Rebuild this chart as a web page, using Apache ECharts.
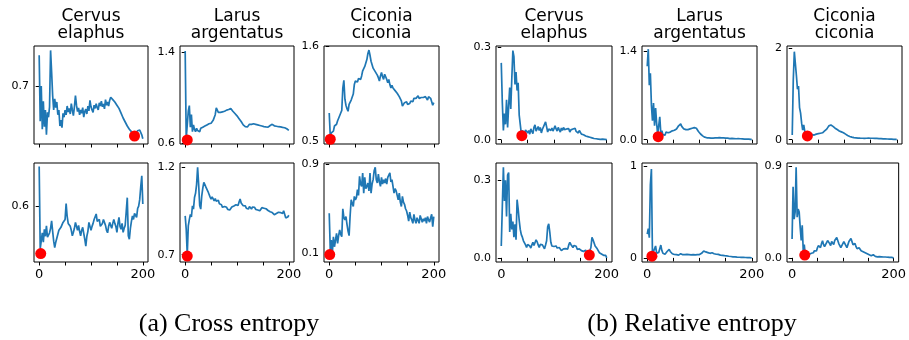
<!DOCTYPE html>
<html>
<head>
<meta charset="utf-8">
<title>Cross entropy / Relative entropy</title>
<script src="https://cdn.jsdelivr.net/npm/echarts/dist/echarts.min.js"></script>
<style>
html, body { margin: 0; padding: 0; background: #fff; }
#myChart { width: 909px; height: 340px; }
</style>
</head>
<body>
<div id="myChart"></div>
<script>
// x: generation
var generations = [
  0, 2, 4, 6, 8, 10, 12, 14, 16, 18,
  20, 22, 24, 26, 28, 30, 32, 34, 36, 38,
  40, 42, 44, 46, 48, 50, 52, 54, 56, 58,
  60, 62, 64, 66, 68, 70, 72, 74, 76, 78,
  80, 82, 84, 86, 88, 90, 92, 94, 96, 98,
  100, 102, 104, 106, 108, 110, 112, 114, 116, 118,
  120, 122, 124, 126, 128, 130, 132, 134, 136, 138,
  140, 142, 144, 146, 148, 150, 152, 154, 156, 158,
  160, 162, 164, 166, 168, 170, 172, 174, 176, 178,
  180, 182, 184, 186, 188, 190, 192, 194, 196, 198,
  200
];
var xTicks = [0, 50, 100, 150, 200];
var xLabels = [0, 200];

var species = ['Cervus\nelaphus', 'Larus\nargentatus', 'Ciconia\nciconia'];
var captions = ['(a) Cross entropy', '(b) Relative entropy'];

// ---- (a) cross entropy, upper row
var ceTopCervus = [
  0.777, 0.612, 0.700, 0.592, 0.662, 0.598, 0.640, 0.578, 0.634, 0.622,
  0.648, 0.789, 0.735, 0.676, 0.640, 0.668, 0.646, 0.660, 0.628, 0.640,
  0.600, 0.615, 0.596, 0.632, 0.622, 0.640, 0.628, 0.650, 0.635, 0.644,
  0.630, 0.656, 0.640, 0.626, 0.648, 0.676, 0.652, 0.636, 0.645, 0.628,
  0.640, 0.632, 0.646, 0.622, 0.636, 0.642, 0.630, 0.650, 0.638, 0.664,
  0.648, 0.640, 0.634, 0.652, 0.644, 0.656, 0.646, 0.640, 0.658, 0.650,
  0.662, 0.648, 0.655, 0.643, 0.666, 0.652, 0.660, 0.650, 0.664, 0.672,
  0.676, 0.666, 0.670, 0.660, 0.664, 0.652, 0.656, 0.644, 0.640, 0.632,
  0.628, 0.620, 0.616, 0.610, 0.606, 0.600, 0.598, 0.592, 0.594, 0.586,
  0.588, 0.580, 0.576, 0.582, 0.586, 0.588, 0.584, 0.590, 0.586, 0.578,
  0.568
];
var ceTopLarus = [
  1.41, 0.64, 0.63, 0.88, 0.93, 0.74, 0.85, 0.70, 0.76, 0.72,
  0.70, 0.73, 0.71, 0.72, 0.70, 0.73, 0.72, 0.74, 0.73, 0.75,
  0.74, 0.76, 0.745, 0.77, 0.76, 0.775, 0.79, 0.80, 0.81, 0.85,
  0.91, 0.92, 0.87, 0.86, 0.87, 0.855, 0.875, 0.86, 0.88, 0.87,
  0.89, 0.88, 0.895, 0.90, 0.905, 0.89, 0.88, 0.875, 0.86, 0.855,
  0.84, 0.83, 0.815, 0.80, 0.79, 0.775, 0.76, 0.75, 0.745, 0.74,
  0.742, 0.75, 0.765, 0.77, 0.765, 0.775, 0.77, 0.772, 0.765, 0.768,
  0.76, 0.765, 0.755, 0.76, 0.75, 0.752, 0.745, 0.748, 0.742, 0.746,
  0.74, 0.75, 0.755, 0.76, 0.765, 0.758, 0.752, 0.745, 0.748, 0.742,
  0.744, 0.738, 0.742, 0.735, 0.738, 0.732, 0.735, 0.73, 0.726, 0.72,
  0.712
];
var ceTopCiconia = [
  0.83, 0.56, 0.60, 0.58, 0.62, 0.68, 0.66, 0.70, 0.74, 0.77,
  0.79, 0.83, 0.86, 1.12, 1.21, 0.99, 0.92, 0.88, 0.85, 0.93,
  0.95, 0.98, 1.00, 1.05, 1.16, 1.20, 1.22, 1.19, 1.23, 1.24,
  1.22, 1.26, 1.32, 1.34, 1.37, 1.41, 1.45, 1.52, 1.56, 1.50,
  1.43, 1.39, 1.35, 1.33, 1.31, 1.30, 1.27, 1.24, 1.20, 1.26,
  1.30, 1.25, 1.22, 1.28, 1.25, 1.22, 1.18, 1.22, 1.16, 1.12,
  1.15, 1.12, 1.10, 1.09, 1.08, 1.06, 1.04, 1.02, 1.00, 0.97,
  0.91, 0.93, 0.95, 0.97, 0.96, 0.93, 0.95, 0.94, 0.97, 0.99,
  0.96, 1.00, 1.02, 1.00, 1.01, 1.03, 1.00, 1.02, 1.01, 1.03,
  1.01, 1.00, 1.02, 1.00, 0.98, 1.02, 1.02, 1.00, 0.98, 0.92,
  0.95
];

// ---- (a) cross entropy, lower row
var ceBotCervus = [
  0.681, 0.515, 0.512, 0.547, 0.528, 0.554, 0.540, 0.561, 0.538, 0.534,
  0.547, 0.556, 0.571, 0.550, 0.530, 0.517, 0.528, 0.536, 0.540, 0.552,
  0.556, 0.558, 0.562, 0.568, 0.566, 0.574, 0.606, 0.580, 0.566, 0.562,
  0.560, 0.552, 0.541, 0.548, 0.556, 0.568, 0.560, 0.552, 0.562, 0.550,
  0.541, 0.552, 0.558, 0.546, 0.534, 0.520, 0.540, 0.550, 0.568, 0.560,
  0.552, 0.560, 0.566, 0.574, 0.570, 0.585, 0.570, 0.566, 0.574, 0.560,
  0.556, 0.566, 0.574, 0.570, 0.562, 0.552, 0.547, 0.560, 0.568, 0.562,
  0.556, 0.566, 0.574, 0.566, 0.560, 0.548, 0.566, 0.578, 0.560, 0.554,
  0.566, 0.548, 0.556, 0.562, 0.590, 0.618, 0.541, 0.534, 0.556, 0.570,
  0.581, 0.574, 0.586, 0.588, 0.578, 0.596, 0.601, 0.614, 0.640, 0.662,
  0.605
];
var ceBotLarus = [
  0.921, 0.845, 0.700, 0.864, 0.900, 0.930, 0.915, 0.979, 0.960, 1.026,
  1.050, 1.100, 1.198, 1.100, 0.980, 0.960, 1.036, 1.080, 1.112, 1.100,
  1.085, 1.074, 1.060, 1.045, 1.030, 1.017, 1.030, 1.020, 1.007, 1.020,
  1.005, 0.998, 1.010, 0.990, 0.979, 0.985, 0.970, 0.960, 0.975, 0.965,
  0.970, 0.958, 0.968, 0.955, 0.960, 0.972, 0.965, 0.978, 0.970, 0.985,
  0.988, 0.980, 1.000, 1.017, 0.995, 0.985, 0.979, 0.972, 0.978, 0.965,
  0.970, 0.960, 0.975, 0.969, 0.960, 0.972, 0.962, 0.970, 0.958, 0.968,
  0.955, 0.962, 0.950, 0.960, 0.968, 0.958, 0.965, 0.955, 0.962, 0.960,
  0.952, 0.958, 0.945, 0.950, 0.940, 0.935, 0.928, 0.921, 0.935, 0.930,
  0.942, 0.950, 0.940, 0.945, 0.935, 0.950, 0.930, 0.910, 0.902, 0.915,
  0.925
];
var ceBotCiconia = [
  0.46, 0.13, 0.22, 0.11, 0.25, 0.16, 0.22, 0.28, 0.19, 0.26,
  0.31, 0.27, 0.25, 0.50, 0.42, 0.40, 0.43, 0.36, 0.30, 0.26,
  0.44, 0.58, 0.55, 0.52, 0.61, 0.58, 0.60, 0.67, 0.62, 0.79,
  0.72, 0.70, 0.82, 0.64, 0.78, 0.68, 0.70, 0.73, 0.66, 0.82,
  0.64, 0.72, 0.76, 0.84, 0.87, 0.76, 0.73, 0.81, 0.74, 0.70,
  0.78, 0.72, 0.76, 0.73, 0.77, 0.72, 0.78, 0.80, 0.82, 0.74,
  0.76, 0.70, 0.64, 0.68, 0.66, 0.62, 0.58, 0.64, 0.56, 0.52,
  0.61, 0.56, 0.54, 0.50, 0.48, 0.44, 0.39, 0.47, 0.42, 0.40,
  0.37, 0.45, 0.40, 0.37, 0.42, 0.41, 0.37, 0.44, 0.45, 0.38,
  0.41, 0.39, 0.42, 0.37, 0.43, 0.40, 0.38, 0.42, 0.45, 0.34,
  0.43
];

// ---- (b) relative entropy, upper row
var reTopCervus = [
  0.25, 0.12, 0.03, 0.085, 0.05, 0.13, 0.04, 0.11, 0.17, 0.10,
  0.20, 0.29, 0.27, 0.18, 0.22, 0.16, 0.185, 0.08, 0.085, 0.02,
  0.03, 0.025, 0.018, 0.032, 0.038, 0.022, 0.030, 0.018, 0.035, 0.027,
  0.020, 0.040, 0.048, 0.028, 0.032, 0.043, 0.030, 0.040, 0.022, 0.034,
  0.030, 0.050, 0.058, 0.055, 0.025, 0.035, 0.040, 0.030, 0.038, 0.028,
  0.036, 0.045, 0.035, 0.028, 0.040, 0.032, 0.025, 0.038, 0.030, 0.040,
  0.033, 0.027, 0.035, 0.030, 0.036, 0.025, 0.032, 0.028, 0.035, 0.030,
  0.037, 0.027, 0.033, 0.022, 0.030, 0.025, 0.018, 0.024, 0.016, 0.020,
  0.012, 0.016, 0.010, 0.014, 0.008, 0.009, 0.006, 0.007, 0.004, 0.006,
  0.003, 0.005, 0.002, 0.004, 0.001, 0.003, 0.002, 0.004, 0.001, 0.000,
  0.000
];
var reTopLarus = [
  1.16, 1.43, 0.86, 1.05, 0.55, 0.30, 0.58, 0.22, 0.50, 0.26,
  0.08, 0.10, 0.36, 0.10, 0.14, 0.08, 0.11, 0.07, 0.12, 0.09,
  0.11, 0.08, 0.12, 0.10, 0.14, 0.12, 0.15, 0.14, 0.17, 0.19,
  0.22, 0.24, 0.25, 0.21, 0.19, 0.17, 0.18, 0.16, 0.17, 0.16,
  0.18, 0.17, 0.19, 0.18, 0.20, 0.19, 0.20, 0.18, 0.16, 0.13,
  0.11, 0.09, 0.07, 0.06, 0.05, 0.04, 0.035, 0.03, 0.025, 0.03,
  0.022, 0.025, 0.03, 0.026, 0.032, 0.028, 0.035, 0.03, 0.038, 0.034,
  0.036, 0.03, 0.025, 0.028, 0.022, 0.024, 0.02, 0.026, 0.022, 0.018,
  0.024, 0.02, 0.025, 0.018, 0.022, 0.015, 0.02, 0.016, 0.012, 0.015,
  0.01, 0.014, 0.01, 0.008, 0.012, 0.008, 0.006, 0.01, 0.005, 0.004,
  0.0
];
var reTopCiconia = [
  0.10, 1.30, 1.92, 1.96, 1.40, 1.10, 1.17, 0.70, 0.58, 0.36,
  0.21, 0.32, 0.18, 0.10, 0.09, 0.14, 0.12, 0.09, 0.13, 0.11,
  0.12, 0.10, 0.13, 0.12, 0.14, 0.13, 0.15, 0.14, 0.16, 0.15,
  0.18, 0.19, 0.21, 0.23, 0.26, 0.30, 0.33, 0.32, 0.34, 0.29,
  0.27, 0.25, 0.23, 0.22, 0.20, 0.19, 0.18, 0.17, 0.16, 0.15,
  0.13, 0.12, 0.10, 0.09, 0.08, 0.07, 0.06, 0.055, 0.05, 0.045,
  0.05, 0.04, 0.045, 0.035, 0.04, 0.032, 0.038, 0.03, 0.035, 0.028,
  0.034, 0.03, 0.026, 0.032, 0.028, 0.03, 0.025, 0.03, 0.024, 0.028,
  0.022, 0.026, 0.02, 0.024, 0.018, 0.022, 0.02, 0.016, 0.02, 0.015,
  0.018, 0.014, 0.016, 0.012, 0.015, 0.01, 0.012, 0.008, 0.01, 0.005,
  0.0
];

// ---- (b) relative entropy, lower row
var reBotCervus = [
  0.046, 0.20, 0.35, 0.22, 0.30, 0.16, 0.32, 0.33, 0.10, 0.17,
  0.11, 0.14, 0.08, 0.13, 0.07, 0.225, 0.19, 0.145, 0.11, 0.09,
  0.08, 0.066, 0.06, 0.05, 0.04, 0.052, 0.045, 0.046, 0.038, 0.05,
  0.06, 0.048, 0.055, 0.07, 0.062, 0.05, 0.04, 0.052, 0.045, 0.05,
  0.046, 0.035, 0.05, 0.066, 0.12, 0.132, 0.10, 0.06, 0.046, 0.052,
  0.044, 0.04, 0.046, 0.038, 0.032, 0.04, 0.035, 0.028, 0.026, 0.035,
  0.03, 0.036, 0.04, 0.034, 0.05, 0.06, 0.052, 0.045, 0.04, 0.048,
  0.053, 0.045, 0.033, 0.04, 0.035, 0.04, 0.028, 0.032, 0.025, 0.02,
  0.03, 0.022, 0.018, 0.015, 0.012, 0.04, 0.079, 0.07, 0.072, 0.046,
  0.05, 0.035, 0.03, 0.02, 0.025, 0.015, 0.018, 0.01, 0.006, 0.01,
  0.0
];
var reBotLarus = [
  0.26, 0.32, 0.22, 0.80, 0.97, 0.04, 0.07, 0.10, 0.13, 0.05,
  0.03, 0.06, 0.10, 0.14, 0.08, 0.05, 0.035, 0.04, 0.05, 0.07,
  0.085, 0.093, 0.07, 0.055, 0.045, 0.04, 0.037, 0.04, 0.035, 0.04,
  0.03, 0.038, 0.045, 0.04, 0.035, 0.03, 0.036, 0.032, 0.038, 0.03,
  0.035, 0.028, 0.032, 0.03, 0.036, 0.037, 0.032, 0.03, 0.036, 0.04,
  0.036, 0.045, 0.05, 0.065, 0.075, 0.07, 0.065, 0.06, 0.058, 0.055,
  0.05, 0.052, 0.056, 0.05, 0.045, 0.048, 0.04, 0.044, 0.038, 0.036,
  0.03, 0.032, 0.028, 0.03, 0.024, 0.026, 0.022, 0.02, 0.018, 0.019,
  0.015, 0.016, 0.012, 0.014, 0.01, 0.012, 0.008, 0.01, 0.007, 0.008,
  0.006, 0.007, 0.005, 0.006, 0.004, 0.005, 0.003, 0.004, 0.002, 0.002,
  0.0
];
var reBotCiconia = [
  0.185, 0.70, 0.38, 0.45, 0.89, 0.40, 0.48, 0.45, 0.30, 0.17,
  0.32, 0.07, 0.13, 0.03, 0.025, 0.03, 0.02, 0.034, 0.03, 0.045,
  0.04, 0.05, 0.07, 0.06, 0.067, 0.10, 0.12, 0.134, 0.10, 0.14,
  0.168, 0.13, 0.11, 0.118, 0.15, 0.17, 0.185, 0.14, 0.12, 0.16,
  0.15, 0.13, 0.17, 0.185, 0.20, 0.17, 0.14, 0.13, 0.10, 0.11,
  0.14, 0.16, 0.15, 0.12, 0.10, 0.13, 0.16, 0.168, 0.19, 0.185,
  0.13, 0.12, 0.14, 0.11, 0.09, 0.084, 0.10, 0.09, 0.07, 0.08,
  0.06, 0.075, 0.05, 0.06, 0.04, 0.034, 0.03, 0.022, 0.02, 0.025,
  0.03, 0.02, 0.015, 0.02, 0.01, 0.008, 0.012, 0.008, 0.01, 0.006,
  0.008, 0.005, 0.008, 0.004, 0.006, 0.003, 0.005, 0.002, 0.004, 0.002,
  0.0
];

// red dots: [generation, value]
var ceTopCervusBest = [184, 0.575];
var ceTopLarusBest = [4, 0.628];
var ceTopCiconiaBest = [2, 0.526];
var ceBotCervusBest = [3, 0.505];
var ceBotLarusBest = [4, 0.692];
var ceBotCiconiaBest = [1, 0.09];
var reTopCervusBest = [39, 0.013];
var reTopLarusBest = [21, 0.048];
var reTopCiconiaBest = [29, 0.08];
var reBotCervusBest = [167, 0.011];
var reBotLarusBest = [9, 0.019];
var reBotCiconiaBest = [25, 0.027];

// y tick labels per panel
var ceTopCervusTicks = ['0.7'];
var ceTopLarusTicks = ['0.6', '1.4'];
var ceTopCiconiaTicks = ['0.5', '1.6'];
var ceBotCervusTicks = ['0.6'];
var ceBotLarusTicks = ['0.7', '1.2'];
var ceBotCiconiaTicks = ['0.1', '0.9'];
var reTopCervusTicks = ['0.0', '0.3'];
var reTopLarusTicks = ['0.0', '1.4'];
var reTopCiconiaTicks = ['0', '2'];
var reBotCervusTicks = ['0.0', '0.3'];
var reBotLarusTicks = ['0', '1'];
var reBotCiconiaTicks = ['0.0', '0.9'];

// layout
var colLeft = [34, 180, 324, 496, 642, 787];
var colWidth = [114, 114, 115, 116, 115, 115];
var rowTop = [46, 163];
var rowHeight = [98, 99];

var panels = [
  {col: 0, row: 0, v: ceTopCervus, best: ceTopCervusBest, ticks: ceTopCervusTicks, min: 0.555, max: 0.80},
  {col: 1, row: 0, v: ceTopLarus, best: ceTopLarusBest, ticks: ceTopLarusTicks, min: 0.592, max: 1.454},
  {col: 2, row: 0, v: ceTopCiconia, best: ceTopCiconiaBest, ticks: ceTopCiconiaTicks, min: 0.471, max: 1.607},
  {col: 0, row: 1, v: ceBotCervus, best: ceBotCervusBest, ticks: ceBotCervusTicks, min: 0.488, max: 0.688},
  {col: 1, row: 1, v: ceBotLarus, best: ceBotLarusBest, ticks: ceBotLarusTicks, min: 0.658, max: 1.223},
  {col: 2, row: 1, v: ceBotCiconia, best: ceBotCiconiaBest, ticks: ceBotCiconiaTicks, min: 0.024, max: 0.909},
  {col: 3, row: 0, v: reTopCervus, best: reTopCervusBest, ticks: reTopCervusTicks, min: -0.014, max: 0.305},
  {col: 4, row: 0, v: reTopLarus, best: reTopLarusBest, ticks: reTopLarusTicks, min: -0.068, max: 1.48},
  {col: 5, row: 0, v: reTopCiconia, best: reTopCiconiaBest, ticks: reTopCiconiaTicks, min: -0.095, max: 2.044},
  {col: 3, row: 1, v: reBotCervus, best: reBotCervusBest, ticks: reBotCervusTicks, min: -0.016, max: 0.367},
  {col: 4, row: 1, v: reBotLarus, best: reBotLarusBest, ticks: reBotLarusTicks, min: -0.045, max: 1.037},
  {col: 5, row: 1, v: reBotCiconia, best: reBotCiconiaBest, ticks: reBotCiconiaTicks, min: -0.041, max: 0.933}
];

var lineColor = '#1f77b4';
var axisColor = '#000';

var myChart = echarts.init(document.getElementById('myChart'), null, {renderer: 'canvas'});

var grid = [], xAxis = [], yAxis = [], series = [], graphic = [];

panels.forEach(function (p, i) {
  grid.push({
    left: colLeft[p.col], top: rowTop[p.row],
    width: colWidth[p.col], height: rowHeight[p.row],
    show: true, borderColor: axisColor, borderWidth: 1, backgroundColor: 'transparent'
  });
  xAxis.push({
    type: 'value', gridIndex: i, min: -10, max: 210,
    splitLine: {show: false},
    axisLine: {show: false},
    axisTick: {show: true, inside: false, length: 3.5, customValues: xTicks, lineStyle: {color: axisColor, width: 1}},
    axisLabel: {
      show: p.row === 1, customValues: xLabels, margin: 6,
      color: '#000', fontSize: 13, fontFamily: 'DejaVu Sans'
    }
  });
  var tickVals = p.ticks.map(Number);
  yAxis.push({
    type: 'value', gridIndex: i, min: p.min, max: p.max,
    splitLine: {show: false},
    axisLine: {show: false},
    axisTick: {show: true, inside: false, length: 3.5, customValues: tickVals, lineStyle: {color: axisColor, width: 1}},
    axisLabel: {
      customValues: tickVals, margin: 5,
      color: '#000', fontSize: 11, fontFamily: 'DejaVu Sans',
      formatter: function (val) {
        for (var k = 0; k < tickVals.length; k++) {
          if (Math.abs(tickVals[k] - val) < 1e-9) return p.ticks[k];
        }
        return '';
      }
    }
  });
  series.push({
    type: 'line', xAxisIndex: i, yAxisIndex: i,
    data: generations.map(function (g, k) { return [g, p.v[k]]; }),
    showSymbol: false, symbol: 'none',
    lineStyle: {color: lineColor, width: 1.7},
    clip: true, z: 2
  });
  series.push({
    type: 'scatter', xAxisIndex: i, yAxisIndex: i,
    data: [p.best], symbolSize: 11,
    itemStyle: {color: '#ff0000', opacity: 1}, z: 3
  });
});

// species titles above each column
for (var c = 0; c < 6; c++) {
  graphic.push({
    type: 'text',
    x: colLeft[c] + colWidth[c] / 2, y: 8,
    style: {
      text: species[c % 3], fill: '#000',
      font: '17px "DejaVu Sans"', lineHeight: 17,
      align: 'center', verticalAlign: 'top',
      textAlign: 'center', textVerticalAlign: 'top'
    }
  });
}
// captions
var captionX = [229, 692];
captions.forEach(function (t, k) {
  graphic.push({
    type: 'text', x: captionX[k], y: 324,
    style: {
      text: t, fill: '#000',
      font: '26px "Liberation Serif"',
      align: 'center', verticalAlign: 'middle',
      textAlign: 'center', textVerticalAlign: 'middle'
    }
  });
});

var option = {
  animation: false,
  backgroundColor: '#fff',
  grid: grid,
  xAxis: xAxis,
  yAxis: yAxis,
  series: series,
  graphic: graphic
};

myChart.setOption(option);
window.addEventListener('resize', function () { myChart.resize(); });
</script>
</body>
</html>
